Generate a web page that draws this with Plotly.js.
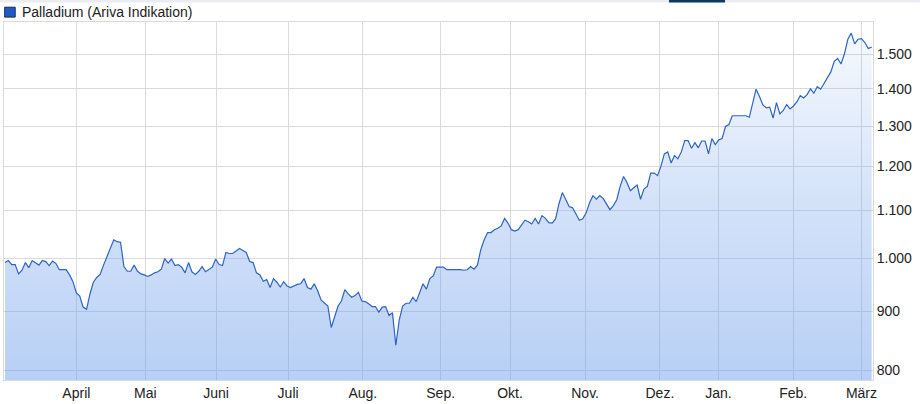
<!DOCTYPE html>
<html>
<head>
<meta charset="utf-8">
<script src="https://cdn.plot.ly/plotly-3.0.1.min.js"></script>
<style>
    html, body { margin: 0; padding: 0; background: #ffffff; }
    #chart { width: 920px; height: 404px; }
</style>
</head>
<body>
<div id="chart"></div>
<script>
// Palladium (Ariva Indikation), one value per trading day
var priceValues = [
    991, 995, 987, 987, 969, 976, 991, 981, 995, 991,
    986, 995, 993, 985, 994, 989, 977, 977, 977, 967,
    954, 933, 927, 907, 903, 931, 953, 962, 968, 986,
    1003, 1017, 1037, 1033, 1032, 983, 974, 974, 986, 974,
    969, 967, 964, 967, 971, 973, 978, 999, 990, 998,
    985, 987, 982, 971, 991, 973, 968, 974, 983, 973,
    977, 982, 998, 987, 985, 1011, 1009, 1009, 1014, 1019,
    1015, 1011, 993, 991, 971, 967, 955, 958, 943, 960,
    953, 944, 954, 946, 943, 946, 949, 950, 960, 943,
    940, 950, 937, 920, 915, 909, 871, 890, 909, 918,
    939, 931, 925, 928, 934, 918, 917, 913, 908, 908,
    898, 907, 908, 892, 897, 841, 884, 909, 914, 914,
    925, 917, 935, 950, 940, 960, 965, 982, 982, 982,
    977, 977, 978, 978,
    977, 976, 977, 983, 978, 986, 1017, 1037, 1052, 1052,
    1058, 1061, 1066, 1082, 1072, 1058, 1055, 1058, 1069, 1078,
    1075, 1070, 1082, 1070, 1088, 1082, 1073, 1072, 1081, 1114,
    1139, 1125, 1108, 1105, 1092, 1078, 1081, 1094, 1116, 1132,
    1124, 1132, 1126, 1113, 1101, 1110, 1123, 1153, 1176, 1162,
    1143, 1150, 1156, 1124, 1147, 1153, 1184, 1184, 1178, 1200,
    1230, 1235, 1208, 1226, 1218, 1235, 1263, 1263, 1244, 1258,
    1245, 1262, 1262, 1230, 1268, 1253, 1265, 1268, 1299, 1304,
    1327, 1327, 1327, 1327, 1327, 1323, 1361, 1399, 1379, 1356,
    1348, 1350, 1321, 1362, 1332, 1341, 1357, 1345, 1353, 1364,
    1381, 1375, 1384, 1400, 1388, 1406, 1399, 1416, 1430, 1448,
    1479, 1487, 1471, 1501, 1545, 1564, 1531, 1545, 1547, 1535,
    1517, 1521
];

// trading-day index where each month starts
var monthTickPositions = [21.0, 41.3, 62.1, 83.3, 105.3, 128.2, 148.6, 170.7, 192.7, 209.9, 231.9, 252.0];
var monthTickLabels = ["April", "Mai", "Juni", "Juli", "Aug.", "Sep.", "Okt.", "Nov.", "Dez.", "Jan.", "Feb.", "März"];

var priceTickValues = [800, 900, 1000, 1100, 1200, 1300, 1400, 1500];
var priceTickLabels = ["800", "900", "1.000", "1.100", "1.200", "1.300", "1.400", "1.500"];

var seriesName = "Palladium (Ariva Indikation)";

class PalladiumChart
{
    static report(chartElement)
    {
        var fontFamily = "Liberation Sans, Arial, sans-serif";
        var gridColor = "#dadada";

        var dayIndex = priceValues.map((value, index) => index);

        var priceTrace =
        {
            x: dayIndex,
            y: priceValues,
            type: "scatter",
            mode: "lines",
            name: seriesName,
            showlegend: false,
            hoverinfo: "skip",
            line: { color: "#2d64c3", width: 1.2 },
            fill: "tozeroy",
            fillgradient:
            {
                type: "vertical",
                start: 784.6,
                stop: 1599,
                colorscale: [[0, "rgba(112,160,236,0.50)"], [0.5, "rgba(112,160,236,0.30)"], [1, "rgba(112,160,236,0.05)"]]
            }
        };

        var layout =
        {
            width: 920,
            height: 404,
            margin: { l: 4, r: 47, t: 22, b: 24 },
            paper_bgcolor: "#ffffff",
            plot_bgcolor: "#ffffff",
            font: { family: fontFamily, size: 14, color: "#222222" },
            showlegend: false,
            xaxis:
            {
                range: [-0.29, 255.4],
                tickmode: "array",
                tickvals: monthTickPositions,
                ticktext: monthTickLabels,
                ticks: "",
                showgrid: true,
                gridcolor: gridColor,
                gridwidth: 1,
                zeroline: false,
                showline: true,
                mirror: true,
                linecolor: gridColor,
                linewidth: 1,
                tickfont: { family: fontFamily, size: 14, color: "#222222" },
                fixedrange: true
            },
            yaxis:
            {
                type: "log",
                side: "right",
                range: [Math.log10(784.6), Math.log10(1599)],
                tickmode: "array",
                tickvals: priceTickValues,
                ticktext: priceTickLabels,
                ticks: "",
                showgrid: true,
                gridcolor: gridColor,
                gridwidth: 1,
                zeroline: false,
                showline: true,
                mirror: true,
                linecolor: gridColor,
                linewidth: 1,
                tickfont: { family: fontFamily, size: 14, color: "#222222" },
                fixedrange: true
            },
            shapes:
            [
                // thin strip along the very top of the page
                { type: "rect", xref: "paper", yref: "paper", x0: -0.01, x1: 1.06, y0: 1.0545, y1: 1.07, fillcolor: "#e9edf2", line: { width: 0 }, layer: "below" },
                { type: "rect", xref: "paper", yref: "paper", x0: 0.7652, x1: 0.8297, y0: 1.0545, y1: 1.07, fillcolor: "#0d3a5e", line: { width: 0 } },
                // legend swatch
                { type: "rect", xref: "paper", yref: "paper", x0: 0.0008, x1: 0.0129, y0: 1.0137, y1: 1.0413, fillcolor: "#1f5bc4", line: { color: "#1a2a55", width: 1 } }
            ],
            annotations:
            [
                {
                    xref: "paper", yref: "paper",
                    x: 0.0184, y: 1.0293,
                    xanchor: "left", yanchor: "middle",
                    text: seriesName,
                    showarrow: false,
                    font: { family: fontFamily, size: 14, color: "#222222" }
                }
            ]
        };

        var config = { staticPlot: true, displayModeBar: false };

        Plotly.newPlot(chartElement, [priceTrace], layout, config);
    }
}

PalladiumChart.report(document.getElementById("chart"));
</script>
</body>
</html>
